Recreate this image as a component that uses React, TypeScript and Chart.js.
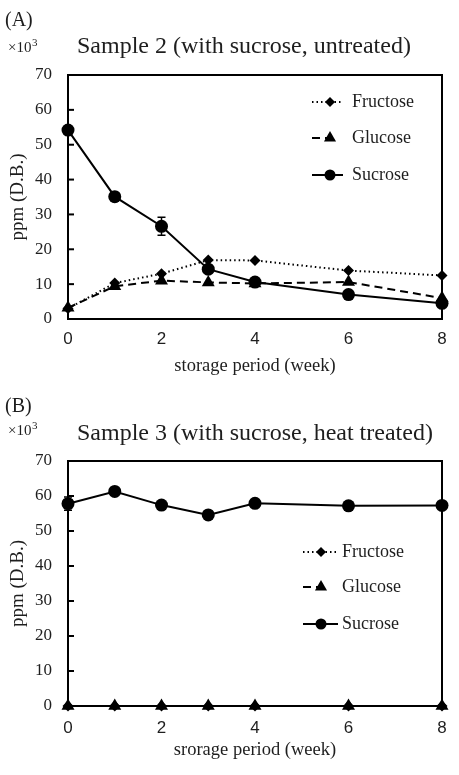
import React, { useEffect, useRef } from 'react';
import { Chart, registerables } from 'chart.js';

Chart.register(...registerables);

// ---- data ----
const weeks = [0, 1, 2, 3, 4, 6, 8];
const xTickValues = [0, 2, 4, 6, 8];
const yMin = 0;
const yMax = 70;
const yStep = 10;
const seriesNames = ['Fructose', 'Glucose', 'Sucrose'];

const fructoseA = [3.0, 10.3, 13.0, 16.9, 16.8, 13.9, 12.5];
const glucoseA = [3.2, 9.4, 11.0, 10.5, 10.2, 10.6, 6.0];
const sucroseA = [54.2, 35.1, 26.6, 14.3, 10.6, 7.0, 4.5];
const sucroseErrA = [0, 0, 2.6, 0, 0, 0, 0];

const fructoseB = [0, 0, 0, 0, 0, 0, 0];
const glucoseB = [0, 0, 0, 0, 0, 0, 0];
const sucroseB = [57.8, 61.3, 57.4, 54.6, 57.9, 57.2, 57.3];
const sucroseErrB = [1.9, 0, 0, 0, 0, 0, 0];

const panelA = '(A)';
const panelB = '(B)';
const titleA = 'Sample 2 (with sucrose, untreated)';
const titleB = 'Sample 3 (with sucrose, heat treated)';
const xTitleA = 'storage period (week)';
const xTitleB = 'srorage period (week)';
const yTitle = 'ppm (D.B.)';
const multiplierBase = '×10';
const multiplierExp = '3';

// ---- styles ----
const SERIF = '"Liberation Serif", "Times New Roman", serif';
const SANS = '"Liberation Sans", Arial, sans-serif';
const TEXT = '#1e1e1e';
const INK = '#000';

type Cfg = {
  top: number;
  height: number;
  padTop: number;
  xAxisH: number;
  xTickPad: number;
  xTitlePadBottom: number;
  panel: string;
  panelY: number;
  multY: number;
  title: string;
  titleBaseline: number;
  xTitle: string;
  fr: number[];
  gl: number[];
  su: number[];
  suErr: number[];
  legend: { x0: number; x1: number; mx: number; tx: number; ys: number[] };
};

function drawMarker(ctx: CanvasRenderingContext2D, style: string, x: number, y: number, r: number) {
  ctx.beginPath();
  if (style === 'circle') {
    ctx.arc(x, y, r, 0, Math.PI * 2);
  } else if (style === 'triangle') {
    for (let k = 0; k < 3; k++) {
      const a = (k * 2 * Math.PI) / 3;
      const px = x + Math.sin(a) * r;
      const py = y - Math.cos(a) * r;
      if (k === 0) ctx.moveTo(px, py);
      else ctx.lineTo(px, py);
    }
    ctx.closePath();
  } else {
    ctx.moveTo(x - r, y);
    ctx.lineTo(x, y - r);
    ctx.lineTo(x + r, y);
    ctx.lineTo(x, y + r);
    ctx.closePath();
  }
  ctx.fillStyle = INK;
  ctx.fill();
}

function makeDecor(cfg: Cfg) {
  return {
    id: 'decor',
    beforeDatasetsDraw(chart: any) {
      const { ctx, chartArea } = chart;
      const ys = chart.scales.y;
      const xs = chart.scales.x;
      ctx.save();
      ctx.strokeStyle = INK;
      ctx.lineWidth = 2;
      ctx.strokeRect(chartArea.left, chartArea.top, chartArea.right - chartArea.left, chartArea.bottom - chartArea.top);
      // inward y tick marks
      ys.ticks.forEach((t: any) => {
        const py = ys.getPixelForValue(t.value);
        ctx.beginPath();
        ctx.moveTo(chartArea.left, py);
        ctx.lineTo(chartArea.left + 6, py);
        ctx.stroke();
      });
      // error bars for sucrose
      ctx.lineWidth = 1.5;
      cfg.su.forEach((v, i) => {
        const e = cfg.suErr[i];
        if (!e) return;
        const px = xs.getPixelForValue(weeks[i]);
        const p1 = ys.getPixelForValue(v + e);
        const p2 = ys.getPixelForValue(v - e);
        ctx.beginPath();
        ctx.moveTo(px, p1);
        ctx.lineTo(px, p2);
        ctx.moveTo(px - 4, p1);
        ctx.lineTo(px + 4, p1);
        ctx.moveTo(px - 4, p2);
        ctx.lineTo(px + 4, p2);
        ctx.stroke();
      });
      ctx.restore();
    },
    afterDraw(chart: any) {
      const { ctx } = chart;
      ctx.save();
      ctx.fillStyle = TEXT;
      ctx.textAlign = 'left';
      ctx.textBaseline = 'middle';
      ctx.font = `20px ${SERIF}`;
      ctx.fillText(cfg.panel, 5, cfg.panelY);
      ctx.font = `15px ${SERIF}`;
      ctx.fillText(multiplierBase, 8, cfg.multY);
      const w = ctx.measureText(multiplierBase).width;
      ctx.font = `11px ${SERIF}`;
      ctx.fillText(multiplierExp, 8 + w + 0.5, cfg.multY - 5);
      ctx.textBaseline = 'alphabetic';
      ctx.font = `24px ${SERIF}`;
      ctx.fillText(cfg.title, 77, cfg.titleBaseline);
      // legend
      const lg = cfg.legend;
      chart.data.datasets.forEach((ds: any, i: number) => {
        const y = lg.ys[i];
        const dashed = (ds.borderDash || []).length > 0 && ds.borderDash[0] > 4;
        ctx.save();
        ctx.strokeStyle = INK;
        ctx.lineWidth = ds.borderWidth;
        ctx.setLineDash(ds.borderDash || []);
        ctx.beginPath();
        ctx.moveTo(lg.x0, y);
        ctx.lineTo(dashed ? lg.mx : lg.x1, y);
        ctx.stroke();
        ctx.restore();
        drawMarker(ctx, ds.pointStyle, lg.mx, y, ds.pointRadius - (ds.pointStyle === 'circle' ? 1 : 0.5));
        ctx.fillStyle = TEXT;
        ctx.font = `18px ${SERIF}`;
        ctx.textBaseline = 'middle';
        ctx.fillText(ds.label, lg.tx, y);
      });
      ctx.restore();
    },
  };
}

function pts(vals: number[]) {
  return weeks.map((w, i) => ({ x: w, y: vals[i] }));
}

function SugarChart({ cfg }: { cfg: Cfg }) {
  const ref = useRef<HTMLCanvasElement>(null);
  useEffect(() => {
    const common = { borderColor: INK, backgroundColor: INK, pointBackgroundColor: INK, pointBorderColor: INK, pointBorderWidth: 0, borderWidth: 2, clip: false as any, tension: 0 };
    const chart = new Chart(ref.current!, {
      type: 'line',
      data: {
        datasets: [
          { ...common, label: seriesNames[0], data: pts(cfg.fr), borderDash: [1.5, 3], pointStyle: 'rectRot', pointRadius: 5.5, order: 1 },
          { ...common, label: seriesNames[1], data: pts(cfg.gl), borderDash: [8, 5], pointStyle: 'triangle', pointRadius: 7.5, order: 2 },
          { ...common, label: seriesNames[2], data: pts(cfg.su), pointStyle: 'circle', pointRadius: 6.5, order: 0 },
        ] as any,
      },
      options: {
        responsive: false,
        animation: false,
        layout: { padding: { left: 0, right: 17, top: cfg.padTop, bottom: 0 } },
        plugins: { legend: { display: false }, tooltip: { enabled: false }, title: { display: false } },
        scales: {
          x: {
            type: 'linear',
            min: weeks[0],
            max: weeks[weeks.length - 1],
            afterBuildTicks: (s: any) => { s.ticks = xTickValues.map((v) => ({ value: v })); },
            afterFit: (s: any) => { s.height = cfg.xAxisH; },
            grid: { display: false, drawTicks: false },
            border: { display: false },
            ticks: { color: TEXT, font: { family: SANS, size: 17 }, padding: cfg.xTickPad, maxRotation: 0 },
            title: { display: true, text: cfg.xTitle, color: TEXT, font: { family: SERIF, size: 18.5 }, padding: { top: 0, bottom: cfg.xTitlePadBottom } },
          },
          y: {
            type: 'linear',
            min: yMin,
            max: yMax,
            afterFit: (s: any) => { s.width = 68; },
            grid: { display: false, drawTicks: false },
            border: { display: false },
            ticks: { stepSize: yStep, color: TEXT, font: { family: SERIF, size: 17 }, padding: 16 },
            title: { display: true, text: yTitle, color: TEXT, font: { family: SERIF, size: 19 }, padding: { top: 6.6, bottom: 0 } },
          },
        },
      } as any,
      plugins: [makeDecor(cfg)],
    });
    return () => chart.destroy();
  }, []);
  return (
    <canvas
      ref={ref}
      width={459}
      height={cfg.height}
      style={{ position: 'absolute', left: 0, top: cfg.top, width: 459, height: cfg.height, display: 'block' }}
    />
  );
}

const cfgA: Cfg = {
  top: 0, height: 385, padTop: 75, xAxisH: 66, xTickPad: 10.5, xTitlePadBottom: 8,
  panel: panelA, panelY: 21, multY: 48, title: titleA, titleBaseline: 53, xTitle: xTitleA,
  fr: fructoseA, gl: glucoseA, su: sucroseA, suErr: sucroseErrA,
  legend: { x0: 312, x1: 343, mx: 330, tx: 352, ys: [102, 138, 175] },
};

const cfgB: Cfg = {
  top: 385, height: 390, padTop: 76, xAxisH: 69, xTickPad: 12, xTitlePadBottom: 14,
  panel: panelB, panelY: 22, multY: 46, title: titleB, titleBaseline: 55, xTitle: xTitleB,
  fr: fructoseB, gl: glucoseB, su: sucroseB, suErr: sucroseErrB,
  legend: { x0: 303, x1: 338, mx: 321, tx: 342, ys: [167, 202, 239] },
};

export default function App() {
  return (
    <div style={{ position: 'absolute', left: 0, top: 0, width: 459, height: 775, background: '#fff' }}>
      <SugarChart cfg={cfgA} />
      <SugarChart cfg={cfgB} />
    </div>
  );
}
